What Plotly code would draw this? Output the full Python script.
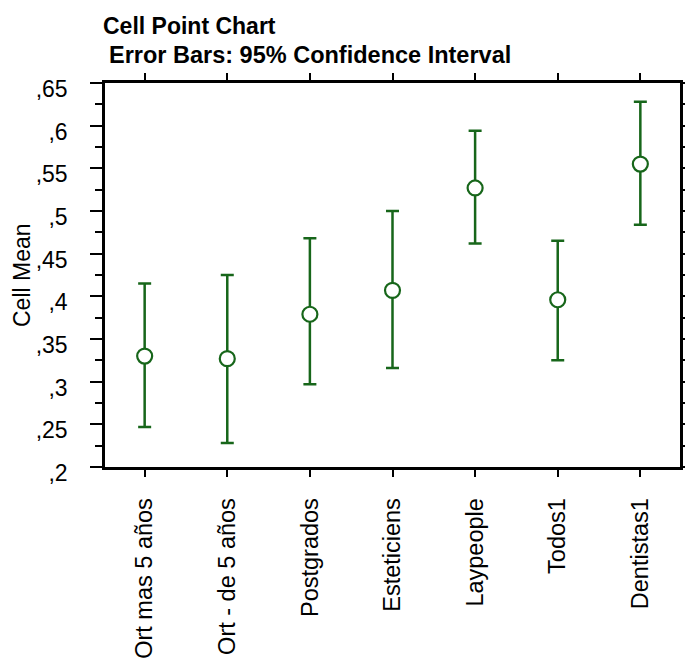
import plotly.graph_objects as go

categories = ["Ort mas 5 años", "Ort - de 5 años", "Postgrados", "Esteticiens",
              "Laypeople", "Todos1", "Dentistas1"]
means = [0.330, 0.327, 0.379, 0.407, 0.527, 0.396, 0.555]
upper = [0.415, 0.425, 0.468, 0.500, 0.594, 0.465, 0.628]
lower = [0.247, 0.228, 0.297, 0.316, 0.462, 0.325, 0.484]

ytick_vals = [0.2, 0.25, 0.3, 0.35, 0.4, 0.45, 0.5, 0.55, 0.6, 0.65]
ytick_text = [",2", ",25", ",3", ",35", ",4", ",45", ",5", ",55", ",6", ",65"]

green = "#17661a"
font_family = "Liberation Sans, Arial, sans-serif"

err_plus = [u - m for u, m in zip(upper, means)]
err_minus = [m - l for m, l in zip(means, lower)]

fig = go.Figure()
fig.add_trace(go.Scatter(
    x=categories, y=means, mode="markers",
    marker=dict(symbol="circle", size=15, color="white",
                line=dict(color=green, width=2.2)),
    error_y=dict(type="data", symmetric=False, array=err_plus, arrayminus=err_minus,
                 color=green, thickness=2.5, width=6.5),
    showlegend=False,
))

fig.update_layout(
    template="none",
    width=685, height=663,
    margin=dict(l=105, r=5, t=83, b=196, autoexpand=False),
    paper_bgcolor="white", plot_bgcolor="white",
    font=dict(family=font_family, size=23, color="black"),
    xaxis=dict(
        type="category", range=[-0.48, 6.48], automargin=False,
        showline=True, linecolor="black", linewidth=2.5, mirror="ticks",
        ticks="outside", ticklen=7, tickwidth=2, tickcolor="black",
        tickangle=-90, showgrid=False, zeroline=False,
        ticklabelstandoff=12,
        tickfont=dict(size=23.5),
    ),
    yaxis=dict(
        range=[0.2, 0.65], automargin=False,
        tickmode="array", tickvals=ytick_vals, ticktext=ytick_text,
        showline=True, linecolor="black", linewidth=2.5, mirror="ticks",
        ticks="outside", ticklen=12, tickwidth=2, tickcolor="black",
        minor=dict(tickmode="linear", tick0=0.2, dtick=0.025, ticks="outside",
                   ticklen=7, tickwidth=2, tickcolor="black", showgrid=False),
        showgrid=False, zeroline=False,
        ticklabelstandoff=18, ticklabelshift=6,
        tickfont=dict(size=23),
    ),
    annotations=[
        dict(text="<b>Cell Point Chart</b>", xref="paper", yref="paper",
             x=-0.007, y=(467 - 26) / 384, xanchor="left", yanchor="middle",
             showarrow=False, font=dict(size=23)),
        dict(text="<b>Error Bars: 95% Confidence Interval</b>", xref="paper", yref="paper",
             x=0.003, y=(467 - 55) / 384, xanchor="left", yanchor="middle",
             showarrow=False, font=dict(size=23.5)),
        dict(text="Cell Mean", xref="paper", yref="paper",
             x=(22 - 105) / 575, y=0.5, xanchor="center", yanchor="middle",
             textangle=-90, showarrow=False, font=dict(size=23)),
    ],
)

fig.write_html("out.html")
